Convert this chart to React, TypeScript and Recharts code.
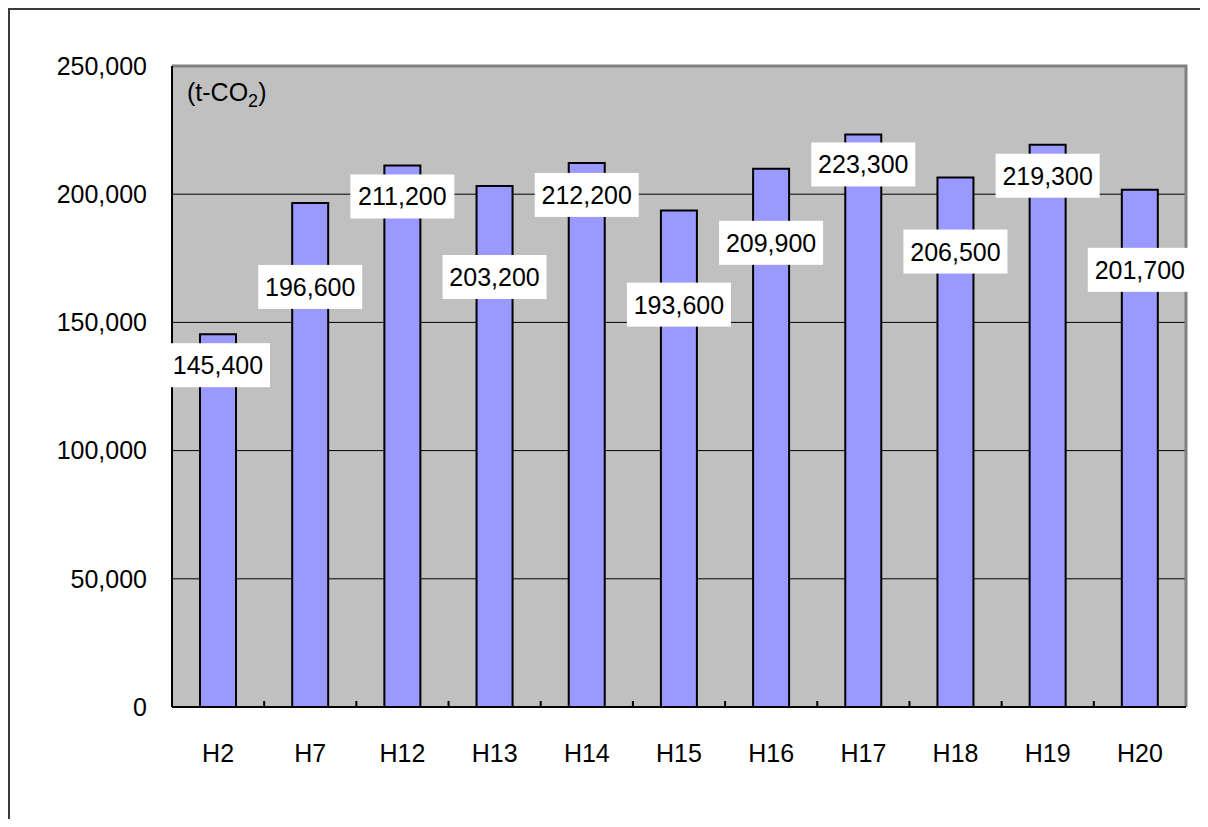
import { Bar, BarChart, CartesianGrid, LabelList, ReferenceArea, XAxis, YAxis } from "recharts";

const years = ["H2", "H7", "H12", "H13", "H14", "H15", "H16", "H17", "H18", "H19", "H20"];
const emissions = [145400, 196600, 211200, 203200, 212200, 193600, 209900, 223300, 206500, 219300, 201700];
const yTicks = [0, 50000, 100000, 150000, 200000, 250000];

const rows = years.map((year, i) => ({ year, value: emissions[i] }));

// how far (px) each value tag sits below the top of its bar
const tagDrop = [31, 84, 31, 91, 32, 94, 74, 30, 74, 31, 80];

const FONT = "'Liberation Sans', Arial, sans-serif";
const fmt = (v: number) => v.toLocaleString("en-US");

// plot box is 1014 x 641; dash only the top + right edges of the frame
const FRAME_HALF = 1014 + 641;

const ValueTag = (props: any) => {
  const { x, y, width, value, index } = props;
  const i = typeof index === "number" ? index : emissions.indexOf(value);
  const cx = x + width / 2;
  const cy = y + (tagDrop[i] ?? 30);
  const w = 104;
  const h = 44;
  return (
    <g>
      <rect x={cx - w / 2} y={cy - h / 2} width={w} height={h} fill="#fff" />
      <text x={cx} y={cy} textAnchor="middle" dominantBaseline="central" fontSize={25} fontFamily={FONT} fill="#000">
        {fmt(value)}
      </text>
    </g>
  );
};

const YearTick = (props: any) => {
  const { x, y, payload } = props;
  const half = payload?.offset ?? 46;
  return (
    <g>
      <line x1={x - half} x2={x - half} y1={y} y2={y - 6} stroke="#000" strokeWidth={2} />
      <text x={x} y={y + 46} textAnchor="middle" dominantBaseline="central" fontSize={25} fontFamily={FONT} fill="#000">
        {payload.value}
      </text>
    </g>
  );
};

export default function App() {
  return (
    <div
      style={{
        position: "relative",
        width: 1198,
        height: 809,
        borderTop: "2px solid #3c3c3c",
        borderLeft: "2px solid #3c3c3c",
        background: "#fff",
        fontFamily: FONT,
      }}
    >
      <BarChart width={1198} height={809} data={rows} margin={{ top: 56, right: 22, bottom: 52, left: 0 }}>
        <CartesianGrid vertical={false} stroke="#000" strokeWidth={1} fill="#C0C0C0" fillOpacity={1} />
        <XAxis
          dataKey="year"
          interval={0}
          axisLine={{ stroke: "#000", strokeWidth: 2 }}
          tickLine={false}
          tickSize={0}
          tickMargin={0}
          height={60}
          tick={<YearTick />}
        />
        <YAxis
          domain={[0, 250000]}
          ticks={yTicks}
          width={162}
          axisLine={{ stroke: "#000", strokeWidth: 2 }}
          tickLine={false}
          tickSize={0}
          tickMargin={25}
          tickFormatter={fmt}
          tick={{ fontSize: 25, fontFamily: FONT, fill: "#000" }}
        />
        <ReferenceArea
          y1={0}
          y2={250000}
          ifOverflow="visible"
          fill="none"
          fillOpacity={0}
          stroke="#808080"
          strokeWidth={3}
          strokeDasharray={`${FRAME_HALF} ${FRAME_HALF}`}
        />
        <Bar dataKey="value" fill="#9999FF" stroke="#000" strokeWidth={2} barSize={36} isAnimationActive={false}>
          <LabelList dataKey="value" content={<ValueTag />} />
        </Bar>
      </BarChart>
      <div
        style={{
          position: "absolute",
          left: 177,
          top: 68,
          fontSize: 25,
          lineHeight: "28px",
          color: "#000",
        }}
      >
        (t-CO<sub style={{ fontSize: 18, verticalAlign: -6, lineHeight: 0 }}>2</sub>)
      </div>
    </div>
  );
}
